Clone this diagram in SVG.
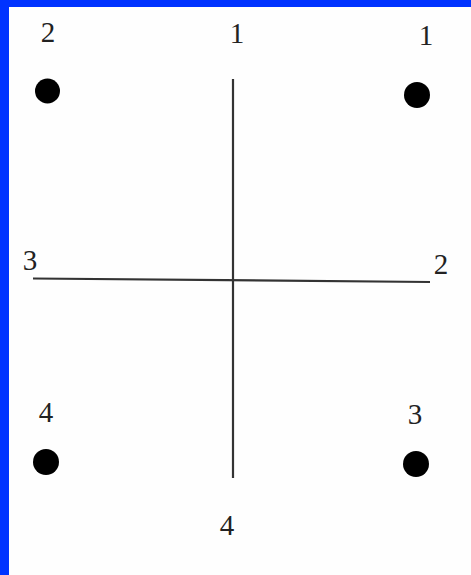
<svg xmlns="http://www.w3.org/2000/svg" width="471" height="575" viewBox="0 0 471 575">
<style>
.lbl{font-family:"Liberation Serif","Times New Roman",serif;font-size:29px;fill:#222;text-anchor:middle}
.dot{fill:#000}
.ln{stroke:#333;stroke-width:2.2;fill:none}
</style>
<rect x="0" y="0" width="471" height="575" fill="#0033ff"/>
<rect x="9" y="7" width="462" height="568" fill="#fefefe"/>
<g id="connectors">
<line class="ln" x1="233" y1="79" x2="233" y2="478"/>
<line class="ln" x1="33" y1="278.5" x2="430" y2="282"/>
</g>
<g id="top-left"><text class="lbl" x="48" y="42">2</text><circle class="dot" cx="47.5" cy="91" r="12.5"/></g>
<g id="top-right"><text class="lbl" x="426" y="45">1</text><circle class="dot" cx="417" cy="95" r="13"/></g>
<g id="bottom-left"><text class="lbl" x="46" y="422">4</text><circle class="dot" cx="46" cy="462" r="13"/></g>
<g id="bottom-right"><text class="lbl" x="415" y="424">3</text><circle class="dot" cx="416" cy="464" r="13"/></g>
<g id="label-top"><text class="lbl" x="237" y="43">1</text></g>
<g id="label-left"><text class="lbl" x="30" y="270">3</text></g>
<g id="label-right"><text class="lbl" x="441" y="274">2</text></g>
<g id="label-bottom"><text class="lbl" x="227" y="535">4</text></g>
</svg>
